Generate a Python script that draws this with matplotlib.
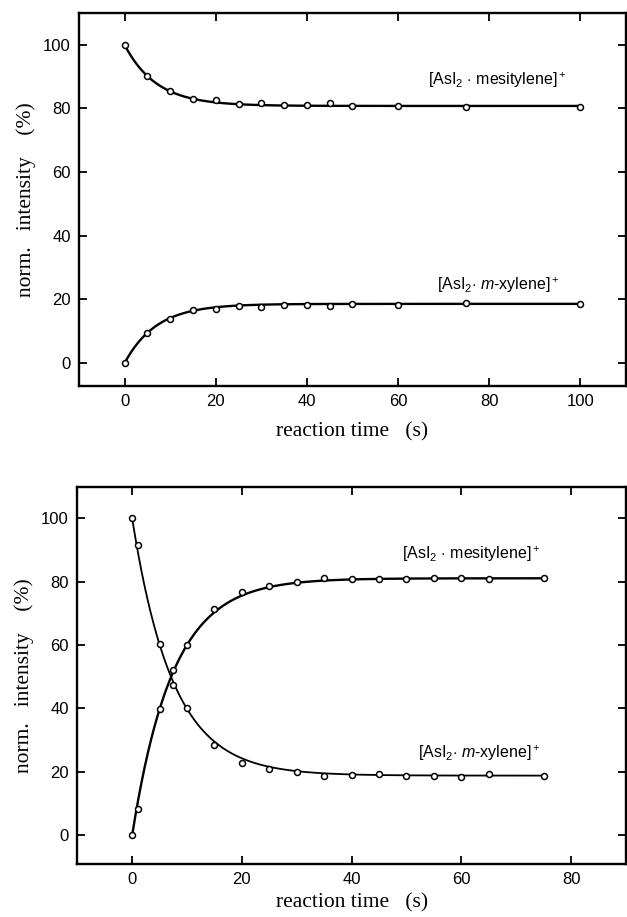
import numpy as np
import matplotlib
matplotlib.use("Agg")
import matplotlib.pyplot as plt

# ---------------- data ----------------
# top panel
t_top = [0, 5, 10, 15, 20, 25, 30, 35, 40, 45, 50, 60, 75, 100]
mes_top = [100, 90.2, 85.6, 83.0, 82.7, 81.5, 81.8, 81.1, 81.0, 81.6, 80.7, 80.9, 80.6, 80.6]
xyl_top = [0, 9.5, 14.0, 16.6, 16.9, 17.9, 17.7, 18.4, 18.4, 17.9, 18.7, 18.4, 18.8, 18.7]

# bottom panel
t_bot = [0, 1, 5, 7.5, 10, 15, 20, 25, 30, 35, 40, 45, 50, 55, 60, 65, 75]
xyl_bot = [100, 91.7, 60.2, 47.3, 40.0, 28.5, 22.9, 20.8, 19.8, 18.8, 19.1, 19.2, 18.8, 18.8, 18.5, 19.2, 18.6]
mes_bot = [0, 8.3, 39.8, 52.0, 59.9, 71.3, 76.8, 78.7, 79.8, 81.1, 80.8, 80.8, 80.9, 81.1, 81.3, 80.9, 81.2]

# first-order fit parameters (plateau, amplitude, rate constant 1/s)
fit_top_mes = (80.8, 19.2, 0.143)
fit_top_xyl = (18.6, -18.6, 0.143)
fit_bot_mes = (81.1, -81.1, 0.135)
fit_bot_xyl = (18.8, 81.2, 0.135)

xticks_top = [0, 20, 40, 60, 80, 100]
xticks_bot = [0, 20, 40, 60, 80]
yticks = [0, 20, 40, 60, 80, 100]

label_mes = r"[AsI$_2$ $\cdot$ mesitylene]$^+$"
label_xyl = r"[AsI$_2$$\cdot$ $\mathit{m}$-xylene]$^+$"

# ---------------- style ----------------
plt.rcParams['font.family'] = ['Liberation Sans', 'DejaVu Sans']
plt.rcParams['mathtext.fontset'] = 'custom'
plt.rcParams['mathtext.rm'] = 'Liberation Sans'
plt.rcParams['mathtext.it'] = 'Liberation Sans:italic'
plt.rcParams['mathtext.bf'] = 'Liberation Sans:bold'

serif = ['Liberation Serif', 'DejaVu Serif']

fig = plt.figure(figsize=(6.27, 9.17), dpi=100)
ax1 = fig.add_axes([0.126, 0.5791, 0.8724, 0.4067])
ax2 = fig.add_axes([0.1233, 0.0578, 0.875, 0.4114])


def model(p, t):
    a, b, k = p
    return a + b * np.exp(-k * t)


def style(ax, xlim, ylim, xticks, xpad):
    ax.set_xlim(*xlim)
    ax.set_ylim(*ylim)
    ax.set_xticks(xticks)
    ax.set_yticks(yticks)
    for s in ax.spines.values():
        s.set_linewidth(1.7)
    ax.tick_params(direction='in', length=6, width=1.3, top=True, right=True,
                   labelsize=12, pad=6)
    for lab in ax.get_xticklabels() + ax.get_yticklabels():
        lab.set_fontweight('medium')
    ax.set_ylabel("norm.   intensity    (%)", family=serif, fontsize=15.5, labelpad=5)
    ax.set_xlabel("reaction time   (s)", family=serif, fontsize=15.5, labelpad=xpad)


mk = dict(marker='o', markersize=4.3, markerfacecolor='white', markeredgecolor='black',
          markeredgewidth=1.1, linestyle='none', zorder=3)

# top panel
tt = np.linspace(0, max(t_top), 400)
ax1.plot(tt, model(fit_top_mes, tt), color='black', lw=1.7)
ax1.plot(tt, model(fit_top_xyl, tt), color='black', lw=1.7)
ax1.plot(t_top, mes_top, **mk)
ax1.plot(t_top, xyl_top, **mk)
style(ax1, (-10, 110), (-7.2, 110), xticks_top, 9)
ax1.text(97, 89, label_mes, fontsize=11.5, ha='right', va='center')
ax1.text(95.5, 24.6, label_xyl, fontsize=11.5, ha='right', va='center')

# bottom panel
tb = np.linspace(0, max(t_bot), 400)
ax2.plot(tb, model(fit_bot_mes, tb), color='black', lw=1.7)
ax2.plot(tb, model(fit_bot_xyl, tb), color='black', lw=1.3)
ax2.plot(t_bot, mes_bot, **mk)
ax2.plot(t_bot, xyl_bot, **mk)
style(ax2, (-10, 90), (-9.1, 110), xticks_bot, 4)
ax2.text(74.5, 88.6, label_mes, fontsize=11.5, ha='right', va='center')
ax2.text(74.5, 26, label_xyl, fontsize=11.5, ha='right', va='center')

fig.savefig("out.png", dpi=100)
